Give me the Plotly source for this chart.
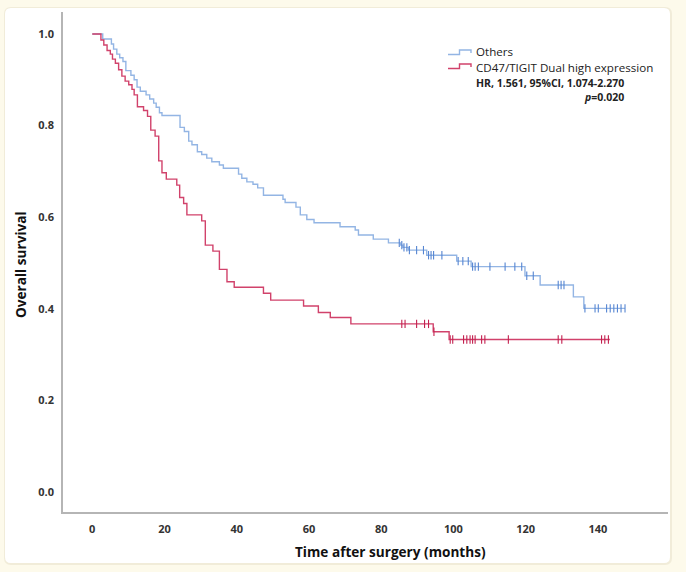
import plotly.graph_objects as go

# ---------------- data ----------------
others_time = [0, 2.9, 5.3, 5.9, 6.8, 7.6, 8.5, 9.3, 10.7, 11.6, 12.4, 13.3, 14.9, 15.9,
               17.0, 17.7, 18.6, 19.3, 24.3, 25.5, 26.7, 27.6, 29.1, 30.3, 31.7, 33.1,
               35.2, 36.3, 40.5, 41.4, 42.8, 44.5, 45.8, 47.4, 52.8, 53.4, 56.4, 57.6,
               59.4, 61.4, 68.6, 72.8, 73.7, 77.8, 82.0, 85.4, 86.0, 87.5, 92.6, 100.9,
               104.9, 119.8, 124.0, 133.2, 136.1]
others_surv = [1.0, 0.989, 0.978, 0.967, 0.956, 0.948, 0.940, 0.920, 0.910, 0.900, 0.884,
               0.875, 0.867, 0.858, 0.849, 0.840, 0.828, 0.822, 0.796, 0.787, 0.766, 0.758,
               0.743, 0.737, 0.729, 0.721, 0.714, 0.707, 0.694, 0.685, 0.677, 0.672, 0.664,
               0.648, 0.639, 0.632, 0.622, 0.605, 0.595, 0.588, 0.579, 0.572, 0.561, 0.552,
               0.544, 0.539, 0.534, 0.528, 0.517, 0.504, 0.492, 0.472, 0.452, 0.426, 0.401]
others_end = 147.5
others_censor = [85.0, 85.7, 86.3, 87.1, 87.8, 89.8, 91.7, 93.1, 93.8, 94.5, 96.8,
                 101.3, 102.6, 104.1, 105.3, 106.0, 106.9, 110.1, 114.3, 117.0, 118.9,
                 120.3, 122.1, 129.0, 129.8, 130.6, 136.4, 139.2, 140.1, 142.4, 143.4,
                 144.4, 145.4, 146.4, 147.5]

dual_time = [0, 2.4, 3.2, 4.1, 5.0, 5.6, 6.4, 7.3, 8.2, 9.1, 10.1, 11.0, 11.6, 12.5,
             14.2, 15.3, 16.2, 17.4, 18.4, 19.3, 20.5, 23.4, 24.2, 25.3, 26.2, 30.3,
             31.3, 33.4, 35.2, 37.3, 39.3, 47.4, 49.4, 58.5, 62.6, 65.9, 71.6, 94.4, 98.8]
dual_surv = [1.0, 0.987, 0.976, 0.964, 0.956, 0.945, 0.936, 0.922, 0.908, 0.897, 0.889,
             0.879, 0.867, 0.841, 0.833, 0.820, 0.790, 0.777, 0.723, 0.697, 0.683, 0.670,
             0.643, 0.630, 0.605, 0.592, 0.539, 0.526, 0.486, 0.459, 0.447, 0.434, 0.419,
             0.406, 0.392, 0.381, 0.367, 0.350, 0.333]
dual_end = 143.3
dual_censor = [85.7, 86.6, 89.8, 92.0, 93.1, 94.6, 99.1, 99.8, 102.8, 103.7, 104.6,
               105.3, 106.0, 107.8, 108.7, 115.2, 129.0, 130.0, 141.0, 141.9, 142.9]

x_ticks = [0, 20, 40, 60, 80, 100, 120, 140]
y_ticks = [0.0, 0.2, 0.4, 0.6, 0.8, 1.0]

legend_labels = ["Others", "CD47/TIGIT Dual high expression"]
stat_line1 = "HR, 1.561, 95%CI, 1.074-2.270"
stat_line2 = "<i>p</i>=0.020"

BLUE_LINE = "#93b5e4"
BLUE_MARK = "#5585d2"
RED_LINE = "#d1426b"
RED_MARK = "#c3204f"
CREAM = "#fdfaeb"


def surv_at(times, survs, t):
    s = survs[0]
    for ti, si in zip(times, survs):
        if ti <= t:
            s = si
    return s


fig = go.Figure()

for times, survs, end, cens, lc, mc in [
    (others_time, others_surv, others_end, others_censor, BLUE_LINE, BLUE_MARK),
    (dual_time, dual_surv, dual_end, dual_censor, RED_LINE, RED_MARK),
]:
    fig.add_trace(go.Scatter(
        x=times + [end], y=survs + [survs[-1]], mode="lines",
        line=dict(color=lc, width=1.4, shape="hv"), showlegend=False, hoverinfo="skip"))
    fig.add_trace(go.Scatter(
        x=cens, y=[surv_at(times, survs, c) for c in cens], mode="markers",
        marker=dict(symbol="line-ns-open", size=6, color=mc, line=dict(color=mc, width=1.1)),
        showlegend=False, hoverinfo="skip"))

W, H = 686, 572
ML, MR, MT, MB = 63, 18, 12, 60
PW, PH = W - ML - MR, H - MT - MB


def PX(x):
    return (x - ML) / PW


def PY(y):
    return (MT + PH - y) / PH


def rounded(x0, y0, x1, y1, r):
    a0, a1 = PX(x0), PX(x1)
    b1, b0 = PY(y0), PY(y1)
    rx, ry = r / PW, r / PH
    return (f"M{a0+rx},{b1} L{a1-rx},{b1} Q{a1},{b1} {a1},{b1-ry} L{a1},{b0+ry} "
            f"Q{a1},{b0} {a1-rx},{b0} L{a0+rx},{b0} Q{a0},{b0} {a0},{b0+ry} "
            f"L{a0},{b1-ry} Q{a0},{b1} {a0+rx},{b1} Z")


shapes = [
    dict(type="path", xref="paper", yref="paper", path=rounded(4, 7, 672, 565, 7),
         fillcolor="#f1ecd9", line=dict(width=0), layer="below"),
    dict(type="path", xref="paper", yref="paper", path=rounded(5, 8, 670, 563, 6),
         fillcolor="#ffffff", line=dict(width=0), layer="below"),
]


def icon(xs, ys, color):
    pts = " L".join(f"{PX(a)},{PY(b)}" for a, b in zip(xs, ys))
    return dict(type="path", xref="paper", yref="paper", path="M" + pts,
                line=dict(color=color, width=1.4))


shapes.append(icon([448, 459.5, 459.5, 471, 471], [54.5, 54.5, 50, 50, 53], BLUE_LINE))
shapes.append(icon([448, 459.5, 459.5, 471, 471], [68.5, 68.5, 64, 64, 67], RED_LINE))

FONT = "Open Sans"
annotations = [
    dict(text=legend_labels[0], x=PX(474), y=PY(52), xref="paper", yref="paper",
         xanchor="left", yanchor="middle", showarrow=False,
         font=dict(family=FONT, size=11.6, color="#222")),
    dict(text=legend_labels[1], x=PX(474), y=PY(67.5), xref="paper", yref="paper",
         xanchor="left", yanchor="middle", showarrow=False,
         font=dict(family=FONT, size=11.6, color="#222")),
    dict(text=stat_line1, x=PX(474), y=PY(83), xref="paper", yref="paper",
         xanchor="left", yanchor="middle", showarrow=False,
         font=dict(family=FONT, size=10.5, color="#222", weight="bold")),
    dict(text=stat_line2, x=PX(626), y=PY(96.5), xref="paper", yref="paper",
         xanchor="right", yanchor="middle", showarrow=False,
         font=dict(family=FONT, size=10.5, color="#222", weight="bold")),
    dict(text="Time after surgery (months)", x=PX(390), y=PY(551), xref="paper",
         yref="paper", xanchor="center", yanchor="middle", showarrow=False,
         font=dict(family=FONT, size=13.6, color="#111", weight="bold")),
    dict(text="Overall survival", x=PX(20), y=PY(265), xref="paper", yref="paper",
         xanchor="center", yanchor="middle", showarrow=False, textangle=-90,
         font=dict(family=FONT, size=13.6, color="#111", weight="bold")),
]

fig.update_layout(
    width=W, height=H,
    margin=dict(l=ML, r=MR, t=MT, b=MB, pad=0),
    paper_bgcolor=CREAM, plot_bgcolor="rgba(0,0,0,0)",
    shapes=shapes, annotations=annotations, showlegend=False,
    xaxis=dict(range=[-8.1, 159.4], tickvals=x_ticks, ticktext=[str(v) for v in x_ticks],
               showgrid=False, zeroline=False, showline=True, linecolor="#b5b5b5",
               linewidth=1.5, ticks="", ticklabelstandoff=6,
               tickfont=dict(family=FONT, size=11, color="#333", weight="bold")),
    yaxis=dict(range=[-0.0437, 1.048], tickvals=y_ticks,
               ticktext=[f"{v:.1f}" for v in y_ticks],
               showgrid=False, zeroline=False, showline=True, linecolor="#b5b5b5",
               linewidth=1.5, ticks="", ticklabelstandoff=5,
               tickfont=dict(family=FONT, size=11, color="#333", weight="bold")),
)

fig.write_html(
    "out.html",
    config={"displayModeBar": False},
    post_script=("document.body.style.margin='0';document.body.style.padding='0';"
                 f"document.body.style.background='{CREAM}';"
                 "document.body.style.overflow='hidden';"),
)
